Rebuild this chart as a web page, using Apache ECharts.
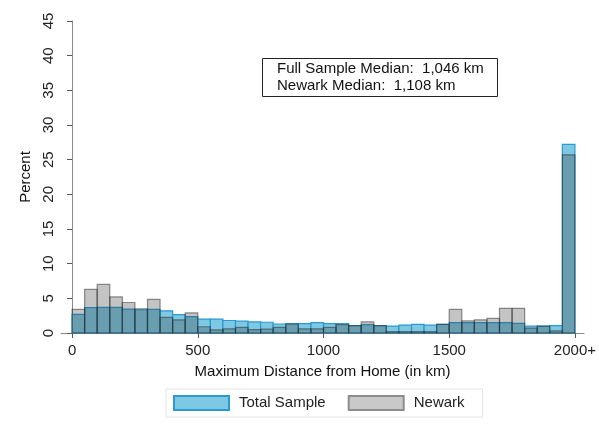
<!DOCTYPE html>
<html>
<head>
<meta charset="utf-8">
<script src="https://cdn.jsdelivr.net/npm/echarts@6/dist/echarts.min.js"></script>
<style>html,body{margin:0;padding:0;background:#fff;}#c{width:599px;height:436px;}</style>
</head>
<body>
<div id="c"></div>
<script>
// Bin starts (km), each bin 50 km wide; last bin is "2000+"
const binStarts = [0,50,100,150,200,250,300,350,400,450,500,550,600,650,700,750,800,850,900,950,
  1000,1050,1100,1150,1200,1250,1300,1350,1400,1450,1500,1550,1600,1650,1700,1750,1800,1850,1900,1950];
const binWidth = 50;
const totalSample = [2.7,3.65,3.7,3.7,3.45,3.35,3.4,3.2,2.65,2.35,2.0,2.0,1.8,1.7,1.6,1.55,1.3,1.35,1.35,1.5,
  1.35,1.35,1.05,1.2,1.05,1.0,1.15,1.25,1.15,1.25,1.5,1.5,1.5,1.5,1.5,1.4,1.0,1.0,1.05,27.2];
const newark = [3.4,6.3,7.0,5.2,4.4,3.5,4.85,2.25,1.9,2.9,0.9,0.45,0.6,0.8,0.5,0.55,0.8,1.3,0.6,0.6,
  0.8,1.2,1.05,1.6,1.05,0.2,0.2,0.2,0.2,1.25,3.4,1.75,1.9,2.1,3.55,3.55,0.7,1.0,0.3,25.7];
const xTicks = [0,500,1000,1500,2000];
const xTickLabels = ['0','500','1000','1500','2000+'];

const FONT = 'Liberation Sans, Arial, sans-serif';
const FS = 15;
const blueFill = '#7dc8e3', blueStroke = '#2a9ad0';
const grayFill = 'rgba(60,60,60,0.3)', grayStroke = 'rgba(40,40,40,0.5)';

function mk(vals){ return binStarts.map((s,i)=>[s, s+binWidth, vals[i]]); }
function renderer(fill, stroke){
  return function(params, api){
    const p0 = api.coord([api.value(0), 0]);
    const p1 = api.coord([api.value(1), api.value(2)]);
    return {type:'rect', shape:{x:p0[0], y:p1[1], width:p1[0]-p0[0], height:p0[1]-p1[1]},
      style:{fill:fill, stroke:stroke, lineWidth:1.2}};
  };
}

const chart = echarts.init(document.getElementById('c'), null, {renderer:'canvas'});
chart.setOption({
  animation:false,
  backgroundColor:'#fff',
  textStyle:{fontFamily:FONT},
  title:{
    text:'Full Sample Median:  1,046 km\nNewark Median:  1,108 km',
    left:262, top:58,
    borderColor:'#222', borderWidth:1,
    padding:[2,14,3,15],
    textStyle:{fontFamily:FONT, fontSize:FS, fontWeight:'normal', color:'#111', lineHeight:17}
  },
  legend:{
    bottom:19, left:166,
    itemWidth:55, itemHeight:14, itemGap:22,
    borderColor:'#e3e3e3', borderWidth:1,
    padding:[6,18,6,7],
    textStyle:{fontFamily:FONT, fontSize:FS, color:'#222', padding:[0,0,0,5]},
    data:[{name:'Total Sample', icon:'rect'},{name:'Newark', icon:'rect'}]
  },
  grid:{left:61, right:14, top:21, bottom:103},
  xAxis:{
    type:'value', min:-44, max:2036, offset:4,
    name:'Maximum Distance from Home (in km)', nameLocation:'middle', nameGap:27,
    nameTextStyle:{fontFamily:FONT, fontSize:FS, color:'#111'},
    axisLine:{show:true, lineStyle:{color:'#888', width:1}},
    axisTick:{show:true, length:5, customValues:xTicks, lineStyle:{color:'#555'}},
    axisLabel:{customValues:xTicks, fontSize:FS, color:'#222', margin:6,
      formatter:function(v){ const i = xTicks.indexOf(v); return i>=0 ? xTickLabels[i] : ''; }},
    splitLine:{show:false}
  },
  yAxis:{
    type:'value', min:0, max:45, interval:5,
    name:'Percent', nameLocation:'middle', nameGap:23,
    nameTextStyle:{fontFamily:FONT, fontSize:FS, color:'#111'},
    axisLine:{show:true, lineStyle:{color:'#888', width:1}},
    axisTick:{show:true, length:5, lineStyle:{color:'#555'}},
    axisLabel:{rotate:90, fontSize:FS, color:'#222', margin:5},
    splitLine:{show:false}
  },
  series:[
    {name:'Total Sample', type:'custom', renderItem:renderer(blueFill, blueStroke),
     encode:{x:[0,1], y:2}, data:mk(totalSample),
     itemStyle:{color:blueFill, borderColor:blueStroke, borderWidth:1.5}},
    {name:'Newark', type:'custom', renderItem:renderer(grayFill, grayStroke),
     encode:{x:[0,1], y:2}, data:mk(newark),
     itemStyle:{color:'#c9c9c9', borderColor:'#8c8c8c', borderWidth:1.5}}
  ]
});
</script>
</body>
</html>
